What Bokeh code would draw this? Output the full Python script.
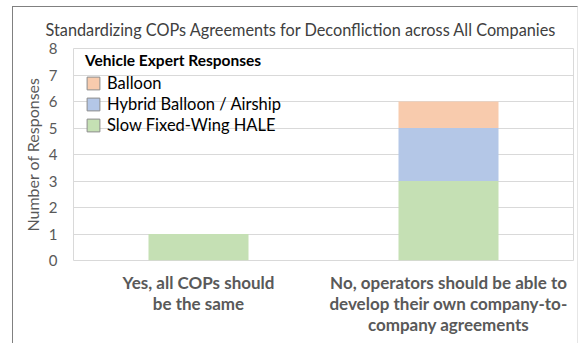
from bokeh.plotting import figure
from bokeh.models import FactorRange, Legend, LegendItem, FixedTicker, ColumnDataSource
from bokeh.embed import file_html
from bokeh.resources import INLINE

FONT = "Lato"

title_text = "Standardizing COPs Agreements for Deconfliction across All Companies"
categories = ["Yes, all COPs should\nbe the same",
              "No, operators should be able to\ndevelop their own company-to-\ncompany agreements"]
series_names = ["Slow Fixed-Wing HALE", "Hybrid Balloon / Airship", "Balloon"]
hale = [1, 3]
hybrid = [0, 2]
balloon = [0, 1]
colors = ["#c5e0b4", "#b4c7e7", "#f8cbad"]
y_ticks = [0, 1, 2, 3, 4, 5, 6, 7, 8]

source = ColumnDataSource(dict(cat=categories, hale=hale, hybrid=hybrid, balloon=balloon))

p = figure(width=566, height=337, x_range=FactorRange(factors=categories, range_padding=0),
           y_range=(0, 8), output_backend="svg", toolbar_location=None,
           min_border_left=60, min_border_right=6, min_border_top=40, min_border_bottom=84,
           margin=(6, 7, 0, 12))
p.styles = {"border-left": "1px solid #808080", "border-top": "1px solid #808080",
            "border-right": "1px solid #e6e6e6"}

p.title.text = title_text
p.title.text_font = FONT
p.title.text_font_size = "16.3px"
p.title.text_font_style = "normal"
p.title.text_color = "#404040"
p.title.align = "left"
p.title.offset = -28
p.title.standoff = 20

rs = p.vbar_stack(["hale", "hybrid", "balloon"], x="cat", width=0.4, source=source,
                  fill_color=colors, line_color=None)

# legend swatches with grey border (not drawn in the plot)
nan = float("nan")
dummies = []
for c in colors:
    d = p.vbar(x=[categories[0]], top=[nan], bottom=[nan], width=0.4, fill_color=c,
               line_color="#8c8c8c", line_width=1)
    dummies.append(d)

items = [LegendItem(label=series_names[i], renderers=[dummies[i]]) for i in [2, 1, 0]]
legend = Legend(items=items, location=(12, 125), title="Vehicle Expert Responses",
                title_text_font=FONT, title_text_font_style="bold", title_text_font_size="15.5px",
                title_text_color="#000000", title_standoff=3,
                label_text_font=FONT, label_text_font_size="16.5px", label_text_color="#000000",
                glyph_width=16, glyph_height=16, label_standoff=6, label_height=21, spacing=0,
                padding=5, margin=0, background_fill_alpha=0, border_line_color=None)
p.add_layout(legend)

p.outline_line_color = "#d9d9d9"
p.xgrid.grid_line_color = None
p.ygrid.grid_line_color = "#d9d9d9"
p.yaxis.ticker = FixedTicker(ticks=y_ticks)

p.yaxis.axis_line_color = None
p.yaxis.major_tick_line_color = None
p.yaxis.minor_tick_line_color = None
p.yaxis.major_tick_out = 0
p.yaxis.major_tick_in = 0
p.yaxis.major_label_standoff = 16
p.yaxis.major_label_text_font = FONT
p.yaxis.major_label_text_font_size = "15px"
p.yaxis.major_label_text_color = "#595959"
p.yaxis.axis_label = "Number of Responses"
p.yaxis.axis_label_text_font = FONT
p.yaxis.axis_label_text_font_size = "16px"
p.yaxis.axis_label_text_font_style = "normal"
p.yaxis.axis_label_text_color = "#595959"
p.yaxis.axis_label_standoff = 4

p.xaxis.axis_line_color = None
p.xaxis.major_tick_line_color = None
p.xaxis.minor_tick_line_color = None
p.xaxis.major_tick_out = 0
p.xaxis.major_tick_in = 0
p.xaxis.major_label_text_font = FONT
p.xaxis.major_label_text_font_size = "17px"
p.xaxis.major_label_text_font_style = "bold"
p.xaxis.major_label_text_color = "#595959"
p.xaxis.major_label_text_line_height = 1.0
p.xaxis.major_label_standoff = 11

open("out.html", "w").write(file_html(p, INLINE))
